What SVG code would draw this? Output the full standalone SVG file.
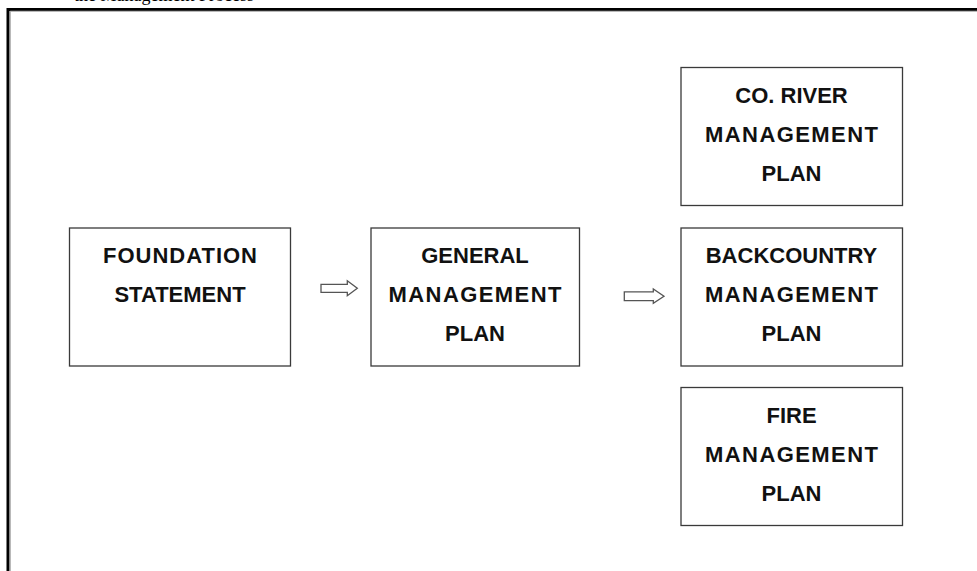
<svg xmlns="http://www.w3.org/2000/svg" width="977" height="571" viewBox="0 0 977 571">
<style>
.box{fill:#fff;stroke:#3a3a3a;stroke-width:1.3}
.lbl{font-family:"Liberation Sans",Arial,sans-serif;font-weight:bold;font-size:22px;fill:#111;text-anchor:middle}
.arr{fill:#fff;stroke:#555;stroke-width:1.3;stroke-linejoin:miter}
.cap{font-family:"Liberation Serif","Times New Roman",serif;font-size:18px;fill:#000}
</style>
<rect width="977" height="571" fill="#fff"/>
<text class="cap" x="74" y="0.5">the Management Process</text>
<g id="frame">
<path d="M8 571V9.5H977" fill="none" stroke="#000" stroke-width="3"/>
<path d="M10.2 571V11.2H977" fill="none" stroke="#9a9a9a" stroke-width="1"/>
</g>
<g id="foundation">
<rect class="box" x="69.5" y="228" width="221" height="138"/>
<text class="lbl" x="180" y="263" textLength="154">FOUNDATION</text>
<text class="lbl" x="180" y="301.5">STATEMENT</text>
</g>
<g id="general">
<rect class="box" x="371" y="228" width="208.5" height="138"/>
<text class="lbl" x="475" y="263">GENERAL</text>
<text class="lbl" x="475" y="301.5" textLength="173">MANAGEMENT</text>
<text class="lbl" x="475" y="341">PLAN</text>
</g>
<g id="coriver">
<rect class="box" x="681" y="67.5" width="221.5" height="138"/>
<text class="lbl" x="791.5" y="103">CO. RIVER</text>
<text class="lbl" x="791.5" y="141.5" textLength="173">MANAGEMENT</text>
<text class="lbl" x="791.5" y="181">PLAN</text>
</g>
<g id="backcountry">
<rect class="box" x="681" y="228" width="221.5" height="138"/>
<text class="lbl" x="791.5" y="263">BACKCOUNTRY</text>
<text class="lbl" x="791.5" y="301.5" textLength="173">MANAGEMENT</text>
<text class="lbl" x="791.5" y="341">PLAN</text>
</g>
<g id="fire">
<rect class="box" x="681" y="387.5" width="221.5" height="138"/>
<text class="lbl" x="791.5" y="423">FIRE</text>
<text class="lbl" x="791.5" y="461.5" textLength="173">MANAGEMENT</text>
<text class="lbl" x="791.5" y="501">PLAN</text>
</g>
<g id="connectors">
<path class="arr" d="M321 284.3H347.3V280.8L357.3 288.3L347.3 295.8V292.3H321Z"/>
<path class="arr" d="M624.3 291.8H653.3V289L664 296.2L653.3 303.4V300.6H624.3Z"/>
</g>
</svg>
